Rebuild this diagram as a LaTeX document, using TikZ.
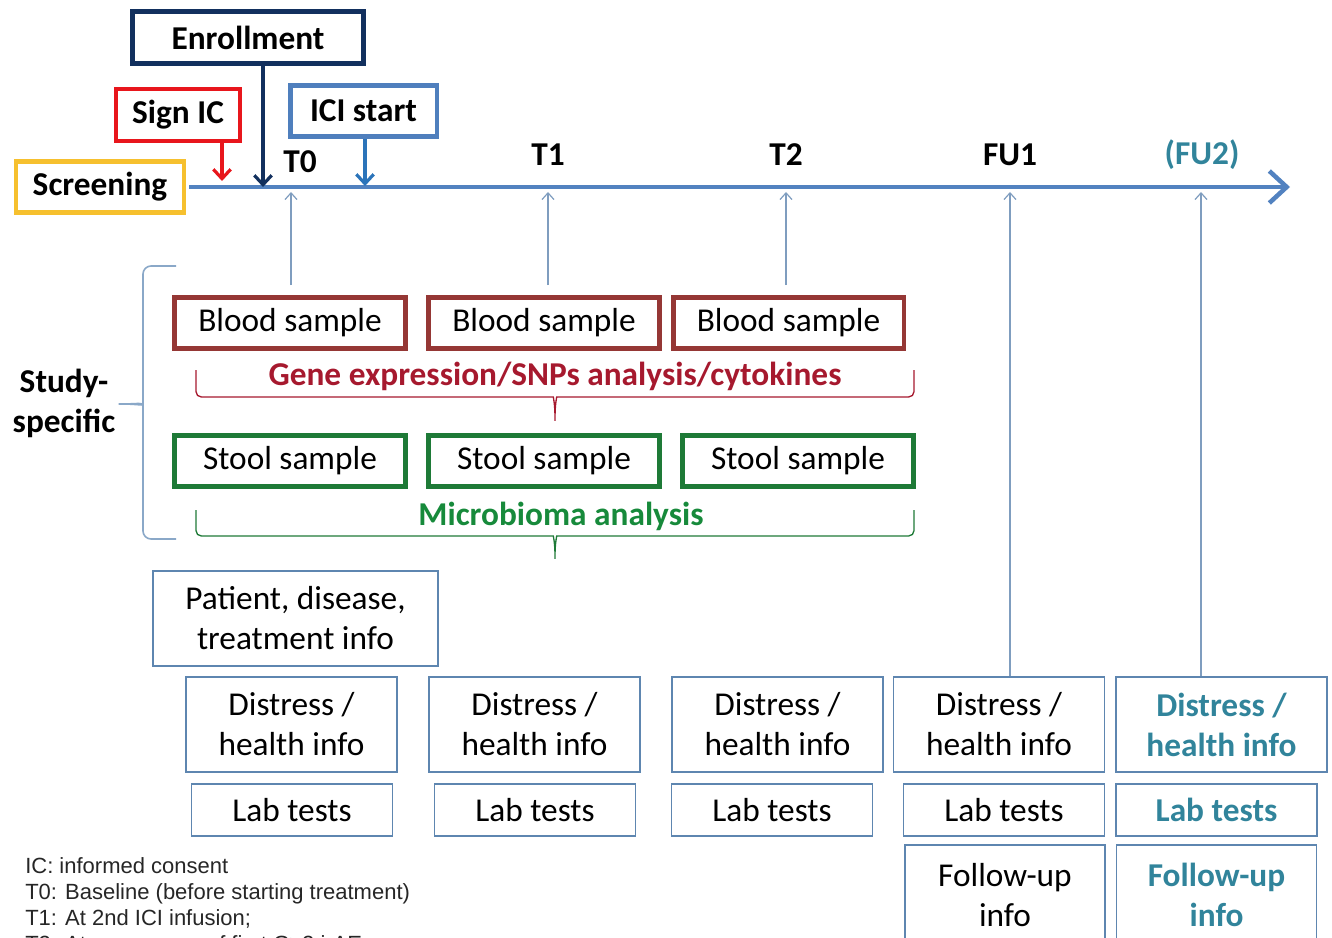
\documentclass[tikz,border=0pt]{standalone}
\usepackage{fontspec}
\setmainfont{Carlito}
\newfontfamily\legendfont{Liberation Sans}
\usetikzlibrary{arrows.meta,calc}

\definecolor{navy}{HTML}{12305E}
\definecolor{signred}{HTML}{E8161C}
\definecolor{iciblue}{HTML}{4F7FBD}
\definecolor{icidark}{HTML}{2B74BA}
\definecolor{gold}{HTML}{F6C02E}
\definecolor{axisblue}{HTML}{5282C0}
\definecolor{tickblue}{HTML}{7F9DBF}
\definecolor{bloodred}{HTML}{953735}
\definecolor{genered}{HTML}{A6192E}
\definecolor{stoolgreen}{HTML}{1E7A37}
\definecolor{microgreen}{HTML}{178A3B}
\definecolor{boxline}{HTML}{5E86B0}
\definecolor{bracegray}{HTML}{8AA8C8}
\definecolor{futeal}{HTML}{31849B}
\definecolor{legendgray}{HTML}{262626}

\begin{document}
\begin{tikzpicture}[x=0.75pt,y=-0.75pt,
  every node/.style={font=\fontsize{25}{30}\selectfont,inner sep=0pt,align=center},
  thickbox/.style={draw=#1,line width=3.5pt,rectangle},
  thinbox/.style={draw=boxline,line width=1.2pt,rectangle},
  sample/.style={minimum width=173pt,minimum height=38.5pt},
  distress/.style={thinbox,minimum width=158pt,minimum height=71pt},
  labtest/.style={thinbox,minimum width=151pt,minimum height=39pt},
  followup/.style={thinbox,minimum width=150pt,minimum height=75pt},
  tlabel/.style={font=\fontsize{25}{30}\selectfont\bfseries},
  downarrow/.style={line width=2.4pt,-{Straight Barb[length=7pt,width=13pt]}},
  tickarrow/.style={draw=tickblue,line width=0.9pt,-{Straight Barb[length=5pt,width=9pt]}},
  fu2/.style={text=futeal,font=\fontsize{25}{30}\selectfont\bfseries}
]
\path[use as bounding box,clip] (0,0) rectangle (1332,938);

% events above the time line
\node[thickbox=navy,minimum width=173pt,minimum height=39pt,font=\fontsize{25}{30}\selectfont\bfseries] (enroll) at (248,37.5) {Enrollment};
\node[thickbox=signred,minimum width=93pt,minimum height=39pt,font=\fontsize{25}{30}\selectfont\bfseries] (signic) at (178,115) {Sign IC};
\node[thickbox=iciblue,minimum width=110pt,minimum height=38pt,font=\fontsize{25}{30}\selectfont\bfseries] (icistart) at (363.5,111) {ICI start};
\node[thickbox=gold,minimum width=126pt,minimum height=38pt,font=\fontsize{25}{30}\selectfont\bfseries] (screening) at (100,187) {Screening};

% time line
\coordinate (tlend) at (1290,187);
\draw[axisblue,line width=3.4pt,-{Straight Barb[length=13pt,width=24pt]}] (screening.east) ++(3,0) -- (tlend);

\coordinate (signfoot) at (222,181);
\coordinate (enrollfoot) at (263,187);
\coordinate (icifoot) at (365,186);
\draw[downarrow,signred] (signic.south -| signfoot) -- (signfoot);
\draw[downarrow,navy] (enroll.south -| enrollfoot) -- (enrollfoot);
\draw[downarrow,icidark] (icistart.south -| icifoot) -- (icifoot);

% time points
\node[tlabel] (t0) at (300,162) {T0};
\node[tlabel] (t1) at (548,155) {T1};
\node[tlabel] (t2) at (786,155) {T2};
\node[tlabel] (fu1) at (1010,155) {FU1};
\node[tlabel,text=futeal] (fu2) at (1202,155) {(FU2)};

% study-specific samples
\node[thickbox=bloodred,sample] (blood1) at (290,323) {Blood sample};
\node[thickbox=bloodred,sample] (blood2) at (544,323) {Blood sample};
\node[thickbox=bloodred,sample] (blood3) at (788.5,323) {Blood sample};
\node[thickbox=stoolgreen,sample] (stool1) at (290,461) {Stool sample};
\node[thickbox=stoolgreen,sample] (stool2) at (544,461) {Stool sample};
\node[thickbox=stoolgreen,sample] (stool3) at (798,461) {Stool sample};

\foreach \b/\xx in {blood1/291,blood2/548,blood3/786}{
  \coordinate (\b foot) at (\xx,192);
  \draw[tickarrow] ($(\b.north -| \b foot)+(0,-10)$) -- (\b foot);
}

% braces
\draw[genered,line width=1pt,rounded corners=4pt] (196,370) -- (196,397) -- (548,397)
  .. controls (553,397) and (555,402) .. (555,424)
  .. controls (555,402) and (557,397) .. (562,397) -- (914,397) -- (914,370);
\node[text=genered,font=\fontsize{25}{30}\selectfont\bfseries] (gene) at (555,376) {Gene expression/SNPs analysis/cytokines};

\draw[stoolgreen,line width=1pt,rounded corners=4pt] (196,510) -- (196,536) -- (548,536)
  .. controls (553,536) and (555,541) .. (555,562)
  .. controls (555,541) and (557,536) .. (562,536) -- (914,536) -- (914,510);
\node[text=microgreen,font=\fontsize{25}{30}\selectfont\bfseries] (micro) at (561,516) {Microbioma analysis};

\draw[bracegray,line width=1.2pt,rounded corners=6pt] (176,266) -- (143,266) -- (143,398)
  .. controls (143,402) and (138,404) .. (114,404)
  .. controls (138,404) and (143,406) .. (143,412) -- (143,539) -- (176,539);
\node[font=\fontsize{25}{30}\selectfont\bfseries] (study) at (64,403) {Study-\\specific};

% clinical data
\node[thinbox,minimum width=214pt,minimum height=71pt] (patient) at (295.5,618.5) {Patient, disease,\\treatment info};

\node[distress] (distress1) at (291.5,724.5) {Distress /\\health info};
\node[distress] (distress2) at (534.5,724.5) {Distress /\\health info};
\node[distress] (distress3) at (777.5,724.5) {Distress /\\health info};
\node[distress] (distress4) at (999,724.5) {Distress /\\health info};
\node[distress,fu2] (distress5) at (1221.5,724.5) {Distress /\\health info};

\node[labtest] (lab1) at (292,810) {Lab tests};
\node[labtest] (lab2) at (535,810) {Lab tests};
\node[labtest] (lab3) at (772,810) {Lab tests};
\node[labtest] (lab4) at (1004,810) {Lab tests};
\node[labtest,fu2] (lab5) at (1216.5,810) {Lab tests};

\node[followup] (follow1) at (1005,895) {Follow-up\\info};
\node[followup,fu2] (follow2) at (1216.5,895) {Follow-up\\info};

\coordinate (fu1foot) at (1010,192);
\coordinate (fu2foot) at (1201,192);
\draw[tickarrow] (distress4.north -| fu1foot) -- (fu1foot);
\draw[tickarrow] (distress5.north -| fu2foot) -- (fu2foot);

% legend
\foreach \yy/\txt [count=\i] in {873/{IC: informed consent},899/{T0:  Baseline (before starting treatment)},925/{T1: At 2nd  ICI infusion;},951/{T2: At occurrence of first G≥2 irAE}}{
  \node[anchor=base west,text=legendgray,font=\legendfont\fontsize{16.5}{19}\selectfont] (legend\i) at (25,\yy) {\txt};
}
\end{tikzpicture}
\end{document}
